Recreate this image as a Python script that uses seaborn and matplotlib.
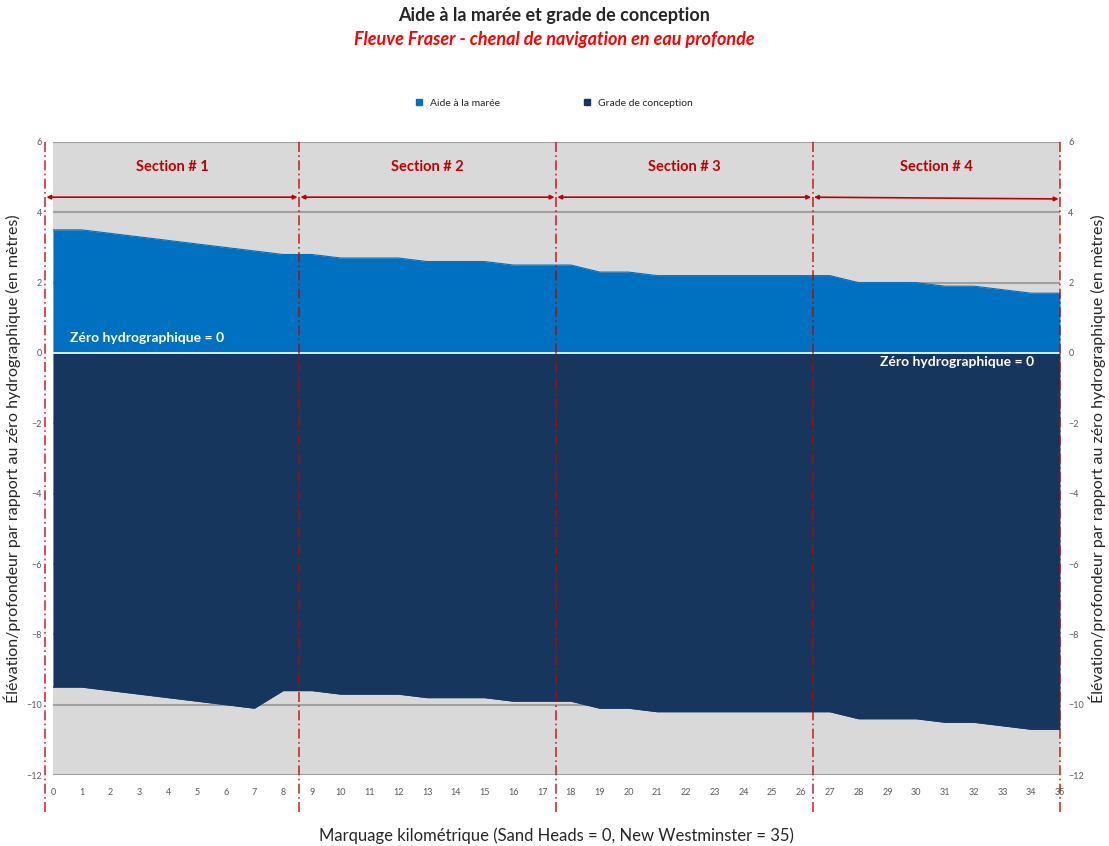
import numpy as np
import matplotlib
matplotlib.use("Agg")
import matplotlib.pyplot as plt
from matplotlib.patches import Patch
import seaborn as sb
import pandas as pd

# chart data
km = list(range(0, 36))
tide_aid = [3.5, 3.5, 3.4, 3.3, 3.2, 3.1, 3.0, 2.9, 2.8, 2.8,
            2.7, 2.7, 2.7, 2.6, 2.6, 2.6, 2.5, 2.5, 2.5, 2.3,
            2.3, 2.2, 2.2, 2.2, 2.2, 2.2, 2.2, 2.2, 2.0, 2.0,
            2.0, 1.9, 1.9, 1.8, 1.7, 1.7]
design_grade = [-9.5, -9.5, -9.6, -9.7, -9.8, -9.9, -10.0, -10.1, -9.6, -9.6,
                -9.7, -9.7, -9.7, -9.8, -9.8, -9.8, -9.9, -9.9, -9.9, -10.1,
                -10.1, -10.2, -10.2, -10.2, -10.2, -10.2, -10.2, -10.2, -10.4, -10.4,
                -10.4, -10.5, -10.5, -10.6, -10.7, -10.7]
section_names = ["Section # 1", "Section # 2", "Section # 3", "Section # 4"]
section_edges = [-0.28, 8.55, 17.48, 26.4, 35.0]
y_ticks = [6, 4, 2, 0, -2, -4, -6, -8, -10, -12]

df = pd.DataFrame({"km": km, "aide": tide_aid, "grade": design_grade})

sb.set_style("white")
plt.rcParams["font.family"] = ["Lato", "DejaVu Sans"]

blue = "#0070c0"
navy = "#17365d"
red = "#c00000"

fig = plt.figure(figsize=(11.09, 8.46), dpi=100)
ax = fig.add_axes([0.0478, 0.0839, 0.908, 0.7483])
ax.set_facecolor("#d9d9d9")

# grid lines
for yv in y_ticks:
    ax.axhline(yv, color="#a0a0a0", lw=1.5, zorder=1)

ax.fill_between(df["km"], 0, df["aide"], color=blue, lw=0, zorder=2)
ax.fill_between(df["km"], df["grade"], 0, color=navy, lw=0, zorder=2)
sb.lineplot(data=df, x="km", y="aide", color=blue, lw=0.8, ax=ax, zorder=3)
sb.lineplot(data=df, x="km", y="grade", color=navy, lw=0.8, ax=ax, zorder=3)
ax.axhline(0, color="white", lw=1.2, zorder=4)

ax.set_xlim(0, 35)
ax.set_ylim(-12, 6)
ax.set_xticks(km)
ax.set_yticks(y_ticks)
ax.tick_params(axis="x", labelsize=6.5, colors="#595959", length=0, pad=9)
ax.tick_params(axis="y", labelsize=6.5, colors="#595959", length=0, pad=8)
for s in ax.spines.values():
    s.set_visible(False)

ax2 = ax.twinx()
ax2.set_ylim(-12, 6)
ax2.set_yticks(y_ticks)
ax2.tick_params(axis="y", labelsize=6.5, colors="#595959", length=0, pad=6)
for s in ax2.spines.values():
    s.set_visible(False)

ylab = "Élévation/profondeur par rapport au zéro hydrographique (en mètres)"
ax.set_ylabel(ylab, fontsize=11.5, labelpad=4)
ax2.set_ylabel(ylab, fontsize=11.5, labelpad=3, rotation=90)
ax.set_xlabel("Marquage kilométrique (Sand Heads = 0, New Westminster = 35)",
              fontsize=12, labelpad=22)

# section boundaries
for xe in section_edges:
    ax.plot([xe, xe], [6, -13.15], color=red, lw=1.2, ls=(0, (6, 2, 1, 2)),
            alpha=0.8, clip_on=False, zorder=5)
for i, name in enumerate(section_names):
    x0, x1 = section_edges[i], section_edges[i + 1]
    y1 = 4.43 if i < 3 else 4.38
    ax.annotate("", xy=(x1 - 0.05, y1), xytext=(x0 + 0.05, 4.43),
                arrowprops=dict(arrowstyle="<|-|>", color=red, lw=1.2,
                                mutation_scale=6, shrinkA=0, shrinkB=0),
                annotation_clip=False, zorder=6)
    ax.text((x0 + x1) / 2, 5.28, name, color=red, fontsize=10.5,
            fontweight="bold", ha="center", va="center", zorder=6)

ax.text(0.6, 0.43, "Zéro hydrographique = 0", color="white", fontsize=10,
        fontweight="bold", ha="left", va="center", zorder=6)
ax.text(34.1, -0.27, "Zéro hydrographique = 0", color="white", fontsize=10,
        fontweight="bold", ha="right", va="center", zorder=6)

fig.text(0.5, 0.982, "Aide à la marée et grade de conception", ha="center",
         va="center", fontsize=13, fontweight="bold")
fig.text(0.5, 0.953, "Fleuve Fraser - chenal de navigation en eau profonde",
         ha="center", va="center", fontsize=13, fontweight="bold",
         fontstyle="italic", color="red")

handles = [Patch(color=blue, label="Aide à la marée"),
           Patch(color=navy, label="Grade de conception")]
fig.legend(handles=handles, loc="center", bbox_to_anchor=(0.5, 0.878), ncol=2,
           frameon=False, fontsize=7.5, handlelength=0.6, handleheight=0.6,
           columnspacing=8, handletextpad=0.8)

fig.savefig("out.png", dpi=100)
